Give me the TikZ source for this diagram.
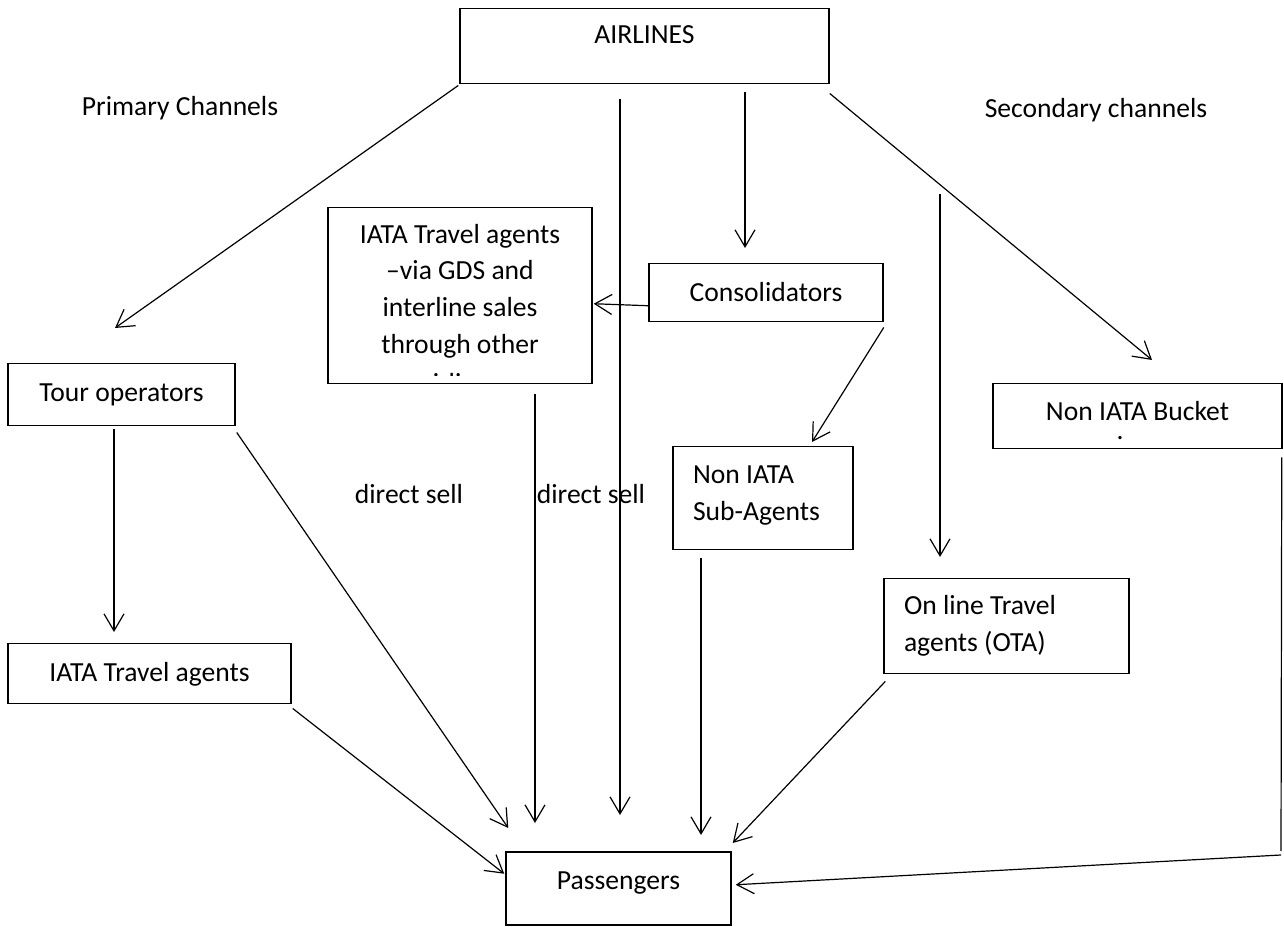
\documentclass[tikz,border=0pt]{standalone}
\usepackage{fontspec}
\setmainfont{Carlito}
\usetikzlibrary{arrows.meta,calc}
\begin{document}
\begin{tikzpicture}[x=1pt,y=1pt,
  every node/.style={font=\fontsize{27.6}{36.7}\selectfont, text=black},
  box/.style={draw, line width=1.5pt, inner sep=0pt, anchor=north},
  arr/.style={line width=1.2pt, -{Straight Barb[length=17pt,width=20pt,line width=1.2pt]}},
  ln/.style={line width=1.2pt},
  lbl/.style={inner sep=0pt}]
\useasboundingbox (0,0) rectangle (1284,926);

% boxes
\node[box, minimum width=369pt, text height=34.7pt, text depth=40.3pt] (air) at (644.5,918) {AIRLINES};
\node[box, minimum width=234pt, text height=37.7pt, text depth=20.3pt] (con) at (766,663) {Consolidators};
\node[box, minimum width=227pt, text height=37.7pt, text depth=24.3pt] (tour) at (121.5,563) {Tour operators};
\node[box, minimum width=289pt, text height=36.7pt, text depth=28.3pt] (buck) at (1137.5,543) {Non IATA Bucket};
\node[lbl, anchor=base] (dot) at (1120,486) {.};
\node[box, inner xsep=20pt, text width=140pt, align=flush left, text height=37pt, text depth=66pt] (sub) at (763,480) {Non IATA\\Sub-Agents};
\node[box, inner xsep=20pt, text width=205pt, align=flush left, text height=36pt, text depth=59pt] (ota) at (1006.5,348) {On line Travel\\agents (OTA)};
\node[box, minimum width=283pt, text height=37.7pt, text depth=22.3pt] (iata) at (149.5,283) {IATA Travel agents};
\node[box, minimum width=225pt, text height=37.7pt, text depth=35.3pt] (pass) at (618.5,75) {Passengers};
\node[box, minimum width=264pt, minimum height=176pt] (gds) at (460,719) {};
\begin{scope}
  \clip (gds.north west) rectangle (592,550);
  \node[lbl, anchor=north, text width=264pt, align=flush center, text height=36pt] (gdstext) at (460,719)
    {IATA Travel agents\\–via GDS and\\interline sales\\through other\\[3pt]airlines};
\end{scope}

% free labels
\node[lbl] (prim) at (180,818) {Primary Channels};
\node[lbl] (sec) at (1096,816) {Secondary channels};
\node[lbl] (ds1) at (409,432) {direct sell};
\node[lbl] (ds2) at (591,432) {direct sell};

% free coordinates
\coordinate (otatop) at (940,732);
\coordinate (bend1) at (1281,75);
\coordinate (bend2) at (1281,71);

% connectors
\draw[arr] ($(air.south west)+(-1,-1)$) -- ($(tour.north)+(-6.5,35)$);
\draw[arr] ($(air.south)+(-24.5,-15)$) -- ($(pass.north)+(1.5,36)$);
\draw[arr] ($(air.south)+(100.5,-8)$) -- ($(con.north)+(-21,15)$);
\draw[arr] ($(air.south east)+(0,-9)$) -- ($(buck.north)+(14.5,23)$);
\draw[arr] ($(con.west)+(0,-13)$) -- ($(gds.east)+(1,-8)$);
\draw[arr] ($(con.south east)+(0,-5)$) -- ($(sub.north)+(49,4)$);
\draw[arr] (otatop) -- ($(ota.north)+(-66.5,21)$);
\draw[arr] ($(tour.south)+(-7.5,-3)$) -- ($(iata.north)+(-35.5,11)$);
\draw[arr] ($(tour.south east)+(1,-6)$) -- ($(pass.north west)+(3,23)$);
\draw[arr] ($(iata.south east)+(1,-4)$) -- ($(pass.west)+(-1,14.5)$);
\draw[arr] ($(gds.south)+(75,-10)$) -- ($(pass.north)+(-83.5,28)$);
\draw[arr] ($(sub.south)+(-62,-8)$) -- ($(pass.north)+(82.5,16)$);
\draw[arr] ($(ota.south west)+(2,-7)$) -- ($(pass.north east)+(1,8)$);
\draw[ln] ($(buck.south east)+(-1,-8)$) -- (bend1);
\draw[arr] (bend2) -- ($(pass.east)+(4,3.5)$);
\end{tikzpicture}
\end{document}
